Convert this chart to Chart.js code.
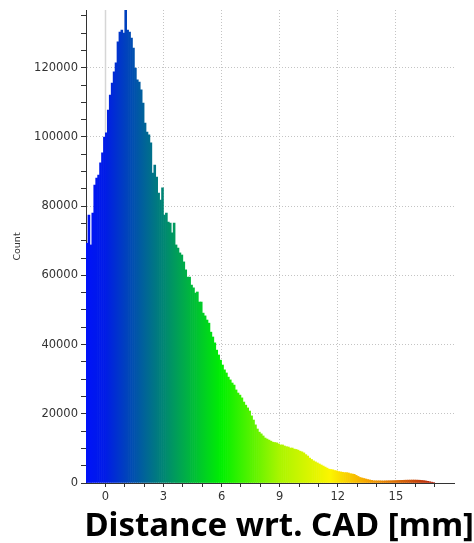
<!DOCTYPE html>
<html>
<head>
<meta charset="utf-8">
<script src="https://cdn.jsdelivr.net/npm/chart.js@4/dist/chart.umd.min.js"></script>
<style>
  html, body { margin: 0; padding: 0; background: #fff; }
  #wrap { width: 474px; height: 543px; }
</style>
</head>
<body>
<div id="wrap"><canvas id="histogram"></canvas></div>
<script>
// histogram of point distances to the CAD surface, bins of 0.1 mm starting at -1 mm
const binStart = -1.0;
const binWidth = 0.1;
const counts = [
  69300, 77400, 68800, 78000, 86100, 88100, 89000, 92500, 95400, 100000,
  101200, 107800, 112100, 115600, 118800, 121400, 127500, 130300, 130900, 130000,
  136700, 130900, 130300, 128600, 125700, 119900, 116500, 115900, 113600, 109800,
  104000, 101400, 100600, 98300, 89600, 91900, 88400, 83800, 81800, 85300,
  77400, 78000, 75400, 75100, 72300, 75100, 68800, 67900, 66500, 65900,
  63900, 61600, 59500, 59500, 57200, 56400, 54900, 55200, 52300, 52300,
  49100, 48300, 47100, 46200, 43600, 42200, 40500, 38400, 37000, 35500,
  34100, 32700, 31800, 30600, 29800, 28900, 28300, 26900, 26000, 25400,
  24600, 23400, 22500, 21700, 20800, 19400, 18200, 16800, 15600, 14700,
  14200, 13600, 13000, 12700, 12400, 12100, 11800, 11700, 11600, 11300,
  11000, 11000, 10700, 10500, 10400, 10100, 10100, 9800, 9700, 9500,
  9200, 9000, 8700, 8200, 7800, 7200, 6800, 6400, 6100, 5800,
  5500, 5200, 4900, 4600, 4300, 4000, 3900, 3800, 3600, 3500,
  3300, 3200, 3100, 3000, 3000, 2900, 2700, 2600, 2500, 2200,
  1900, 1600, 1450, 1300, 1150, 1000, 870, 760, 650, 640,
  620, 630, 610, 600, 620, 630, 650, 660, 680, 700,
  720, 740, 760, 780, 800, 820, 830, 840, 850, 850,
  840, 820, 790, 740, 680, 590, 480, 360, 240, 150
];
// labelled ticks; the unlabelled minor ticks sit every 1 mm and every 5000 counts
const xLabelTicks = [0, 3, 6, 9, 12, 15];
const yLabelTicks = [0, 20000, 40000, 60000, 80000, 100000, 120000];
const xMinorStep = 1;
const yMinorStep = 5000;

// colour map along the distance axis (value in mm, colour)
const colourStops = [
  [-1, 'rgb(0,18,248)'],
  [0, 'rgb(0,28,230)'],
  [6, 'rgb(0,240,0)'],
  [9, 'rgb(170,245,0)'],
  [11.6, 'rgb(252,245,0)'],
  [13.5, 'rgb(245,165,0)'],
  [17, 'rgb(180,35,15)']
];

const points = counts.map((c, i) => ({ x: binStart + binWidth * (i + 0.5), y: c }));

function distanceGradient(ctx) {
  const chart = ctx.chart;
  if (!chart.chartArea) return colourStops[0][1];
  const xs = chart.scales.x;
  const lo = colourStops[0][0], hi = colourStops[colourStops.length - 1][0];
  const g = chart.ctx.createLinearGradient(xs.getPixelForValue(lo), 0, xs.getPixelForValue(hi), 0);
  colourStops.forEach(([v, c]) => g.addColorStop((v - lo) / (hi - lo), c));
  return g;
}

function stepTicks(scale, step, upTo) {
  const out = [];
  for (let v = scale.min; v <= upTo + 1e-9; v += step) out.push({ value: Math.round(v) });
  scale.ticks = out;
}

// light solid marker at zero distance, behind the bars
const zeroLine = {
  id: 'zeroLine',
  beforeDatasetsDraw(chart) {
    const { ctx, chartArea, scales } = chart;
    const px = Math.round(scales.x.getPixelForValue(0)) + 0.5;
    ctx.save();
    ctx.strokeStyle = '#d6d6d6';
    ctx.lineWidth = 1.5;
    ctx.beginPath();
    ctx.moveTo(px, chartArea.top);
    ctx.lineTo(px, chartArea.bottom);
    ctx.stroke();
    ctx.restore();
  }
};

const tickFont = { family: "'DejaVu Sans'", size: 11.5 };
const clear = 'rgba(0,0,0,0)';

new Chart(document.getElementById('histogram'), {
  type: 'bar',
  data: {
    datasets: [{
      label: 'Count',
      data: points,
      backgroundColor: distanceGradient,
      borderWidth: 0,
      barPercentage: 1,
      categoryPercentage: 1
    }]
  },
  options: {
    responsive: true,
    maintainAspectRatio: false,
    animation: false,
    layout: { padding: { top: 10, left: 0, right: 0, bottom: 0 } },
    plugins: {
      legend: { display: false },
      tooltip: { enabled: false },
      title: {
        display: true,
        position: 'bottom',
        align: 'end',
        text: 'Distance wrt. CAD [mm]',
        color: '#000',
        font: { family: "'Noto Sans'", size: 33, weight: 'bold', lineHeight: 1.0 },
        padding: { top: 2, bottom: 0 }
      }
    },
    scales: {
      x: {
        type: 'linear',
        offset: false,
        min: -1,
        max: 18,
        afterBuildTicks: s => stepTicks(s, xMinorStep, 17),
        afterFit: s => { s.height = 25; },
        ticks: {
          autoSkip: false,
          maxRotation: 0,
          padding: 3,
          color: '#333',
          font: tickFont,
          callback: v => xLabelTicks.includes(v) ? String(v) : ''
        },
        grid: {
          offset: false,
          color: c => (c.tick && c.tick.value > 0 && xLabelTicks.includes(c.tick.value)) ? '#c4c4c4' : clear,
          lineWidth: 1,
          tickLength: 4,
          tickColor: c => (c.tick && c.tick.value < 0) ? clear : '#333'
        },
        border: { color: '#333', width: 1, dash: [1, 2] }
      },
      y: {
        min: 0,
        max: 136700,
        afterBuildTicks: s => stepTicks(s, yMinorStep, 135000),
        afterFit: s => { s.width = 86; },
        ticks: {
          autoSkip: false,
          padding: 3,
          color: '#333',
          font: tickFont,
          callback: v => yLabelTicks.includes(v) ? String(v) : ''
        },
        grid: {
          color: c => (c.tick && c.tick.value > 0 && yLabelTicks.includes(c.tick.value)) ? '#c4c4c4' : clear,
          lineWidth: 1,
          tickLength: 5,
          tickColor: '#333'
        },
        border: { color: '#333', width: 1, dash: [1, 2] },
        title: {
          display: true,
          text: 'Count',
          color: '#333',
          font: { family: "'DejaVu Sans'", size: 9.5 },
          padding: { top: 12, bottom: 4 }
        }
      },
      gutter: {
        position: 'right',
        display: true,
        ticks: { display: false },
        grid: { display: false },
        border: { display: false },
        afterFit: s => { s.width = 20; }
      }
    }
  },
  plugins: [zeroLine]
});
</script>
</body>
</html>
